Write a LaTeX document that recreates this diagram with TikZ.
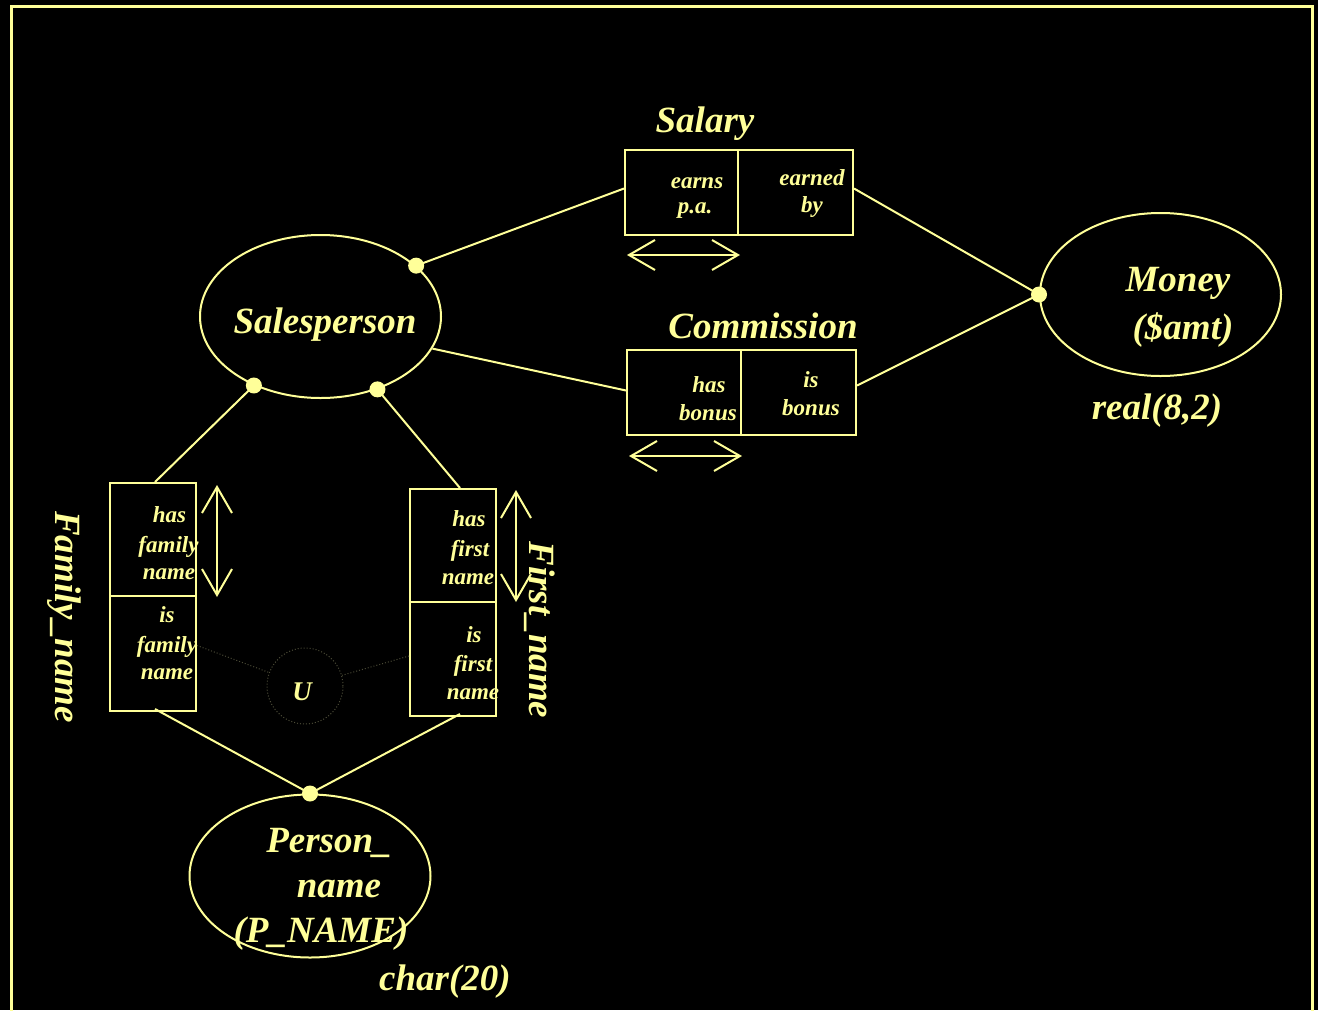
\documentclass[tikz,border=0pt]{standalone}
\usepackage{fontspec}
\setmainfont{Liberation Serif}
\usetikzlibrary{shapes.geometric,arrows.meta}
\definecolor{ink}{RGB}{255,255,153}
\definecolor{faint}{RGB}{75,75,55}
\begin{document}
\begin{tikzpicture}[x=1pt,y=-1pt,
  big/.style={text=ink, font=\bfseries\itshape\fontsize{37}{44}\selectfont, anchor=base, inner sep=0pt},
  small/.style={text=ink, font=\bfseries\itshape\fontsize{23}{29}\selectfont, anchor=base, inner sep=0pt},
  wire/.style={draw=ink, line width=2pt},
  ent/.style={ellipse, draw=ink, line width=2pt, minimum width=241pt, minimum height=163pt, inner sep=0pt},
  half/.style={rectangle, draw=ink, line width=2pt, inner sep=0pt},
  dot/.style={circle, fill=ink, inner sep=0pt, minimum size=16pt},
  dbl/.style={draw=ink, line width=2pt, {Straight Barb[length=26pt,width=30pt]}-{Straight Barb[length=26pt,width=30pt]}},
  faintline/.style={draw=faint, line width=1pt, dotted},
]
\fill[black] (0,0) rectangle (1318,1010);
\useasboundingbox (0,0) rectangle (1318,1010);
\clip (0,0) rectangle (1318,1010);
\draw[ink, line width=3pt] (11.5,6.5) rectangle (1312,1030);

% entity types
\node[ent] (sp) at (320.5,316.5) {};
\node[ent] (money) at (1160.5,294.5) {};
\node[ent] (pn) at (310,876) {};

% fact type boxes: Salary
\node[half, minimum width=113pt, minimum height=85pt] (sal1) at (681.5,192.5) {};
\node[half, minimum width=115pt, minimum height=85pt] (sal2) at (795.5,192.5) {};
% Commission
\node[half, minimum width=114pt, minimum height=85pt] (com1) at (684,392.5) {};
\node[half, minimum width=115pt, minimum height=85pt] (com2) at (798.5,392.5) {};
% Family_name
\node[half, minimum width=86pt, minimum height=113pt] (fam1) at (153,539.5) {};
\node[half, minimum width=86pt, minimum height=115pt] (fam2) at (153,653.5) {};
% First_name
\node[half, minimum width=86pt, minimum height=113pt] (fst1) at (453,545.5) {};
\node[half, minimum width=86pt, minimum height=114pt] (fst2) at (453,659) {};

% exclusion / union marker
\node[circle, draw=faint, dotted, line width=1pt, minimum size=76pt, inner sep=0pt] (u) at (305,686) {};
\node[text=ink, font=\bfseries\itshape\fontsize{27}{30}\selectfont, anchor=base, inner sep=0pt] (ulab) at (302,700) {U};
\draw[faintline] ([yshift=8pt]fam2.east) -- (u);
\draw[faintline] ([yshift=3pt]fst2.west) -- (u);

% role connectors
\coordinate (spA) at (sp.28);
\coordinate (spB) at (sp.-16);
\coordinate (spC) at (sp.-134);
\coordinate (spD) at (sp.-52);
\draw[wire] (spA) -- ([yshift=4pt]sal1.west);
\draw[wire] ([yshift=4pt]sal2.east) -- (money.west);
\draw[wire] (spB) -- ([yshift=2pt]com1.west);
\draw[wire] ([yshift=7pt]com2.east) -- (money.west);
\draw[wire] (spC) -- ([xshift=2pt]fam1.north);
\draw[wire] (spD) -- ([xshift=7pt]fst1.north);
\draw[wire] ([xshift=2pt,yshift=3pt]fam2.south) -- (pn.north);
\draw[wire] ([xshift=7pt,yshift=3pt]fst2.south) -- (pn.north);

% mandatory role dots
\node[dot] (dA) at (spA) {};
\node[dot] (dC) at (spC) {};
\node[dot] (dD) at (spD) {};
\node[dot] (dM) at (money.west) {};
\node[dot] (dP) at (pn.north) {};

% uniqueness arrows
\coordinate (salL) at (627,255);
\coordinate (salR) at (740,255);
\coordinate (comL) at (629,456);
\coordinate (comR) at (742,456);
\coordinate (famT) at (217,485);
\coordinate (famB) at (217,597);
\coordinate (fstT) at (516,490);
\coordinate (fstB) at (516,602);
\draw[dbl] (salL) -- (salR);
\draw[dbl] (comL) -- (comR);
\draw[dbl] (famT) -- (famB);
\draw[dbl] (fstT) -- (fstB);

% entity labels
\node[big] (spT) at (325,333) {Salesperson};
\node[big] (moneyT1) at (1178,291) {Money};
\node[big] (moneyT2) at (1183,339) {(\$amt)};
\node[big] (moneyT3) at (1157,419) {real(8,2)};
\node[big] (pnT1) at (329,852) {Person\_};
\node[big] (pnT2) at (339,897) {name};
\node[big] (pnT3) at (321,942) {(P\_NAME)};
\node[big] (pnT4) at (445,990) {char(20)};

% fact type names
\node[big] (salT) at (705,132) {Salary};
\node[big] (comT) at (763,338) {Commission};
\node[big, rotate=-90, anchor=center] (famT) at (64,617) {Family\_name};
\node[big, rotate=-90, anchor=center] (fstT) at (540,630) {First\_name};

% role readings
\node[small] (r1a) at (697,188) {earns};
\node[small] (r1b) at (695,213) {p.a.};
\node[small] (r2a) at (812,185) {earned};
\node[small] (r2b) at (812,212) {by};
\node[small] (r3a) at (709,392) {has};
\node[small] (r3b) at (708,420) {bonus};
\node[small] (r4a) at (811,387) {is};
\node[small] (r4b) at (811,415) {bonus};
\node[small] (r5a) at (169.5,522) {has};
\node[small] (r5b) at (168.5,552) {family};
\node[small] (r5c) at (169,579) {name};
\node[small] (r6a) at (167,622) {is};
\node[small] (r6b) at (167,652) {family};
\node[small] (r6c) at (167,679) {name};
\node[small] (r7a) at (469,526) {has};
\node[small] (r7b) at (470,556) {first};
\node[small] (r7c) at (468,584) {name};
\node[small] (r8a) at (474,642) {is};
\node[small] (r8b) at (473,671) {first};
\node[small] (r8c) at (473,699) {name};
\end{tikzpicture}
\end{document}
